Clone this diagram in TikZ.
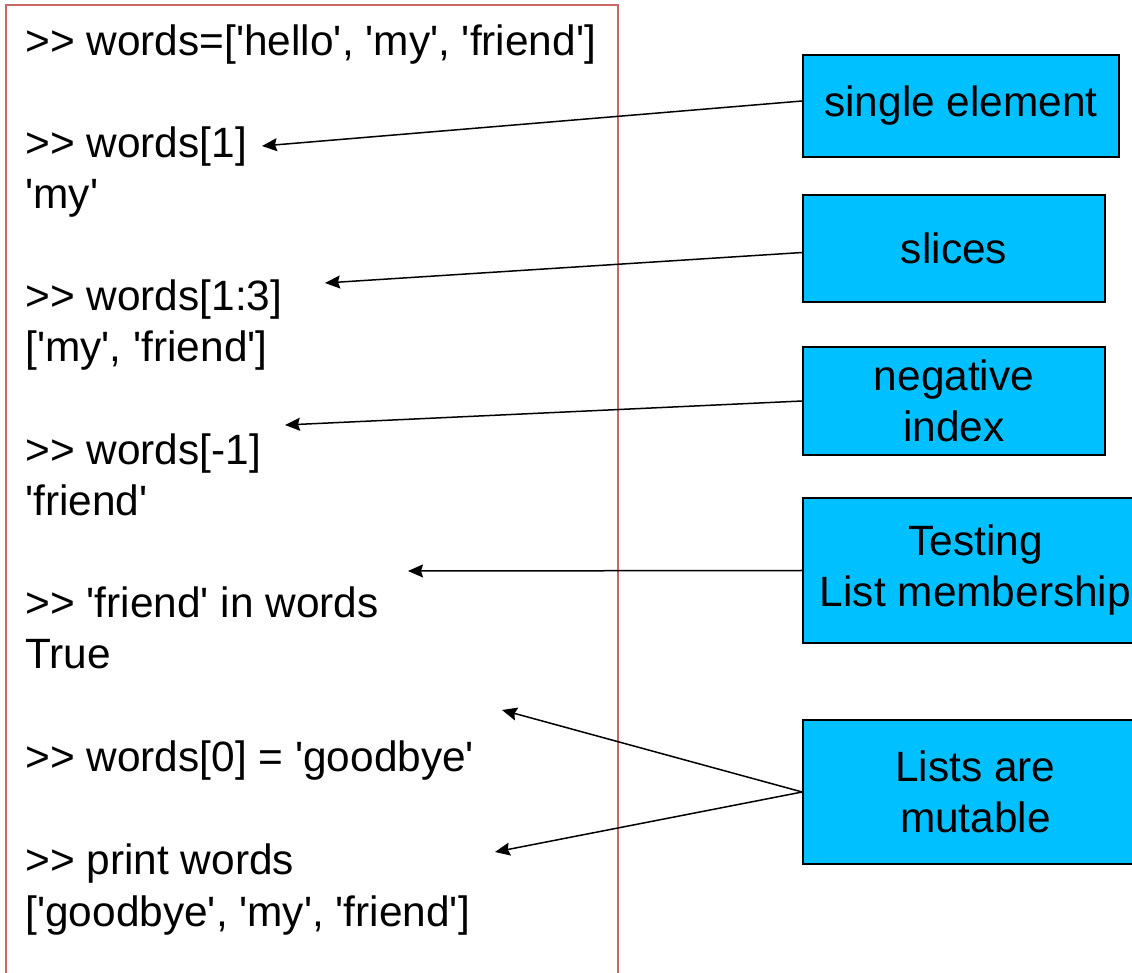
\documentclass[tikz,border=0pt]{standalone}
\usepackage{fontspec}
\setmainfont{Liberation Sans}[Ligatures=TeXOff]
\usetikzlibrary{positioning, arrows.meta}
\definecolor{boxblue}{RGB}{0,192,255}
\definecolor{framered}{RGB}{204,102,102}

\begin{document}
\begin{tikzpicture}[
    x=0.5pt, y=-0.5pt,
    codeline/.style={anchor=base west, inner sep=0pt, font=\fontsize{21.2}{25.5}\selectfont},
    notebox/.style={rectangle, draw=black, fill=boxblue, line width=0.8pt, align=center, inner sep=0pt, font=\fontsize{21.2}{25.5}\selectfont},
    pointer/.style={-{Stealth[length=7.5pt, width=6.5pt, inset=1pt]}, line width=0.75pt}
]
\useasboundingbox (0,0) rectangle (1132,973);
\clip (0,0) rectangle (1132,973);
\draw[framered, line width=1pt] (6,5) rectangle (618,1000);

% python session
\node[codeline](l0) at (25,56){>> words=['hello', 'my', 'friend']};
\node[codeline](l2) at (25,158){>> words[1]};
\node[codeline](l3) at (25,209){'my'};
\node[codeline](l5) at (25,311){>> words[1:3]};
\node[codeline](l6) at (25,362){['my', 'friend']};
\node[codeline](l8) at (25,465){>> words[-1]};
\node[codeline](l9) at (25,516){'friend'};
\node[codeline](l11) at (25,618){>> 'friend' in words};
\node[codeline](l12) at (25,669){True};
\node[codeline](l14) at (25,772){>> words[0] = 'goodbye'};
\node[codeline](l16) at (25,874){>> print words};
\node[codeline](l17) at (25,926){['goodbye', 'my', 'friend']};

% notes
\node[notebox, minimum width=158pt, minimum height=51pt](single) at (961,106){single element};
\node[notebox, minimum width=151pt, minimum height=53.5pt](slices) at (954,248.5){slices};
\node[notebox, minimum width=151pt, minimum height=54pt](negative) at (954,401){negative\\index};
\node[notebox, minimum width=172.5pt, minimum height=72.5pt](membership) at (975.5,570.5){Testing\\List membership};
\node[notebox, minimum width=172.5pt, minimum height=72pt](mutable) at (975.5,792){Lists are\\mutable};

% arrow tips
\coordinate (t1) at (262,146);
\coordinate (t2) at (325,283);
\coordinate (t3) at (285,425);
\coordinate (t4) at (408,571);
\coordinate (t5) at (502,710);
\coordinate (t6) at (495,852);

\draw[pointer] ([yshift=2.5pt]single.west) -- (t1);
\draw[pointer] ([yshift=-2pt]slices.west) -- (t2);
\draw[pointer] (negative.west) -- (t3);
\draw[pointer] (membership.west) -- (t4);
\draw[pointer] (mutable.west) -- (t5);
\draw[pointer] (mutable.west) -- (t6);
\end{tikzpicture}
\end{document}
